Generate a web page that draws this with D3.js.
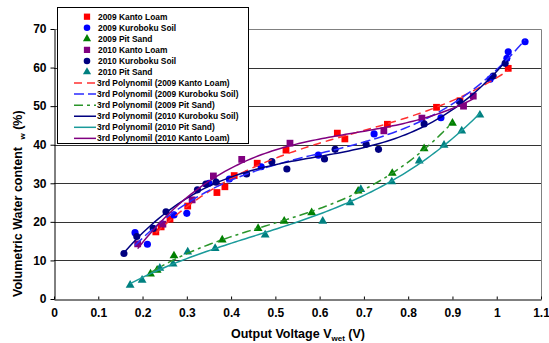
<!DOCTYPE html>
<html>
<head>
<meta charset="utf-8">
<script src="https://cdn.jsdelivr.net/npm/d3@7/dist/d3.min.js"></script>
<style>
  body { margin: 0; background: #fff; }
  svg { display: block; font-family: "Liberation Sans", Arial, sans-serif; }
</style>
</head>
<body>
<svg id="chart" width="549" height="343"></svg>
<script>
// Axis ticks
const xTicks = [0, 0.1, 0.2, 0.3, 0.4, 0.5, 0.6, 0.7, 0.8, 0.9, 1, 1.1];
const yTicks = [0, 10, 20, 30, 40, 50, 60, 70];

// Output voltage (V) and volumetric water content (%) per soil / year
const kanto2009V = [0.230, 0.242, 0.262, 0.302, 0.368, 0.386, 0.407, 0.459, 0.524, 0.640, 0.657, 0.753, 0.864, 0.917, 1.026];
const kanto2009W = [17.4, 18.7, 20.7, 24.1, 27.6, 29.1, 32.0, 35.2, 38.6, 43.0, 41.5, 45.3, 49.7, 51.4, 59.8];

const kuroboku2009V = [0.183, 0.211, 0.271, 0.300, 0.350, 0.396, 0.468, 0.597, 0.723, 0.874, 0.985, 1.023, 1.026, 1.064];
const kuroboku2009W = [17.2, 14.2, 21.8, 22.2, 30.0, 31.1, 34.3, 37.3, 42.8, 47.0, 57.0, 62.4, 64.1, 66.7];

const sand2009V = [0.218, 0.233, 0.271, 0.380, 0.461, 0.520, 0.582, 0.687, 0.764, 0.836, 0.900];
const sand2009W = [6.5, 7.5, 11.2, 15.3, 18.3, 20.2, 22.4, 28.0, 32.6, 39.0, 45.6];

const kanto2010V = [0.189, 0.246, 0.312, 0.360, 0.424, 0.533, 0.745, 0.831, 0.925, 0.947];
const kanto2010W = [14.3, 19.4, 25.7, 31.9, 36.2, 40.4, 43.6, 46.9, 50.0, 52.6];

const kuroboku2010V = [0.158, 0.187, 0.224, 0.253, 0.324, 0.343, 0.366, 0.435, 0.492, 0.526, 0.611, 0.635, 0.705, 0.733, 0.836, 0.916, 0.992, 1.019];
const kuroboku2010W = [11.8, 16.2, 18.3, 22.6, 28.3, 29.8, 30.3, 32.4, 35.6, 33.7, 36.3, 38.8, 40.1, 38.8, 45.4, 51.2, 57.8, 61.1];

const sand2010V = [0.172, 0.199, 0.239, 0.269, 0.302, 0.364, 0.477, 0.607, 0.669, 0.693, 0.763, 0.825, 0.881, 0.921, 0.962];
const sand2010W = [3.6, 4.9, 8.0, 9.1, 12.2, 13.1, 16.6, 20.2, 25.0, 28.4, 30.4, 35.8, 39.9, 43.6, 47.7];

const series = [
  { name: "2009 Kanto Loam",    v: kanto2009V,    w: kanto2009W,    color: "#ff0000", shape: d3.symbolSquare,   size: 46 },
  { name: "2009 Kuroboku Soil", v: kuroboku2009V, w: kuroboku2009W, color: "#0000ff", shape: d3.symbolCircle,   size: 40 },
  { name: "2009 Pit Sand",      v: sand2009V,     w: sand2009W,     color: "#008000", shape: d3.symbolTriangle, size: 34 },
  { name: "2010 Kanto Loam",    v: kanto2010V,    w: kanto2010W,    color: "#800080", shape: d3.symbolSquare,   size: 46 },
  { name: "2010 Kuroboku Soil", v: kuroboku2010V, w: kuroboku2010W, color: "#000080", shape: d3.symbolCircle,   size: 40 },
  { name: "2010 Pit Sand",      v: sand2010V,     w: sand2010W,     color: "#008080", shape: d3.symbolTriangle, size: 34 }
];

// Third-order polynomial trend lines, in legend order
const fits = [
  { label: "3rd Polynomil (2009 Kanto Loam)",    src: 0, color: "#ff3030", dash: "8,5" },
  { label: "3rd Polynomil (2009 Kuroboku Soil)", src: 1, color: "#2a2aff", dash: "10,4" },
  { label: "3rd Polynomil (2009 Pit Sand)",      src: 2, color: "#2a952a", dash: "9,4,3,4" },
  { label: "3rd Polynomil (2010 Kuroboku Soil)", src: 4, color: "#000080", dash: null },
  { label: "3rd Polynomil (2010 Pit Sand)",      src: 5, color: "#1a9a9a", dash: null },
  { label: "3rd Polynomil (2010 Kanto Loam)",    src: 3, color: "#800080", dash: null }
];

// Least-squares cubic: solve the 4x4 normal equations
function cubicFit(xs, ys) {
  const n = 4;
  const A = Array.from({ length: n }, () => new Array(n + 1).fill(0));
  xs.forEach((x, k) => {
    for (let i = 0; i < n; i++) {
      for (let j = 0; j < n; j++) A[i][j] += Math.pow(x, i + j);
      A[i][n] += ys[k] * Math.pow(x, i);
    }
  });
  for (let c = 0; c < n; c++) {
    let p = c;
    for (let r = c + 1; r < n; r++) if (Math.abs(A[r][c]) > Math.abs(A[p][c])) p = r;
    [A[c], A[p]] = [A[p], A[c]];
    for (let r = 0; r < n; r++) {
      if (r === c) continue;
      const f = A[r][c] / A[c][c];
      for (let k = c; k <= n; k++) A[r][k] -= f * A[c][k];
    }
  }
  const coef = A.map((row, i) => row[n] / row[i]);
  return x => coef[0] + coef[1] * x + coef[2] * x * x + coef[3] * x * x * x;
}

const svg = d3.select("#chart");
const plot = { left: 54, top: 29, right: 541, bottom: 299 };

const x = d3.scaleLinear().domain([0, 1.1]).range([plot.left, plot.right]);
const y = d3.scaleLinear().domain([0, 70]).range([plot.bottom, plot.top]);

// Horizontal grid lines
svg.append("g")
  .selectAll("line")
  .data(yTicks.filter(t => t > 0 && t < 70))
  .join("line")
  .attr("x1", plot.left).attr("x2", plot.right)
  .attr("y1", d => Math.round(y(d)) + 0.5).attr("y2", d => Math.round(y(d)) + 0.5)
  .attr("stroke", "#333").attr("stroke-width", 1);

// Plot frame: top and right in grey
svg.append("path")
  .attr("d", `M${plot.left},${plot.top + 0.5}H${plot.right + 0.5}V${plot.bottom}`)
  .attr("fill", "none").attr("stroke", "#808080").attr("stroke-width", 1);

// Axes
const xAxis = d3.axisBottom(x).tickValues(xTicks).tickSizeInner(-3).tickSizeOuter(0)
  .tickFormat(d => d3.format("~g")(d)).tickPadding(9);
const gx = svg.append("g").attr("transform", `translate(0,${plot.bottom + 0.5})`).call(xAxis);
gx.select(".domain").attr("stroke", "#000");
gx.selectAll(".tick line").attr("stroke", "#000");
gx.selectAll("text").attr("font-size", 12).attr("font-weight", "bold")
  .attr("font-family", "Liberation Sans, Arial, sans-serif").attr("fill", "#000");

const yAxis = d3.axisLeft(y).tickValues(yTicks).tickSizeInner(4).tickSizeOuter(0).tickPadding(4);
const gy = svg.append("g").attr("transform", `translate(${plot.left + 0.5},0)`).call(yAxis);
gy.select(".domain").attr("stroke", "#000");
gy.selectAll(".tick line").attr("stroke", "#000");
gy.selectAll("text").attr("font-size", 12).attr("font-weight", "bold")
  .attr("font-family", "Liberation Sans, Arial, sans-serif").attr("fill", "#000");

// Data markers
series.forEach(s => {
  svg.append("g")
    .selectAll("path")
    .data(s.v.map((v, i) => [v, s.w[i]]))
    .join("path")
    .attr("transform", d => `translate(${x(d[0])},${y(d[1])})`)
    .attr("d", d3.symbol(s.shape, s.size))
    .attr("fill", s.color);
});

// Trend lines
const line = d3.line().x(d => x(d[0])).y(d => y(d[1])).curve(d3.curveLinear);
fits.forEach(f => {
  const s = series[f.src];
  const fn = cubicFit(s.v, s.w);
  const [lo, hi] = d3.extent(s.v);
  const pts = d3.range(0, 101).map(i => {
    const v = lo + (hi - lo) * i / 100;
    return [v, fn(v)];
  });
  svg.append("path")
    .attr("d", line(pts))
    .attr("fill", "none")
    .attr("stroke", f.color)
    .attr("stroke-width", 1.5)
    .attr("stroke-dasharray", f.dash);
});

// Legend
const legend = svg.append("g");
legend.append("rect")
  .attr("x", 57.5).attr("y", 7.5).attr("width", 191).attr("height", 136)
  .attr("fill", "#fff").attr("stroke", "#000").attr("stroke-width", 1);

const rowY = i => 16.7 + 11.06 * i;
series.forEach((s, i) => {
  legend.append("path")
    .attr("transform", `translate(87,${rowY(i)})`)
    .attr("d", d3.symbol(s.shape, s.size * 0.85))
    .attr("fill", s.color);
  legend.append("text")
    .attr("x", 98).attr("y", rowY(i)).attr("dy", "0.35em")
    .attr("font-size", 8.4).attr("font-weight", "bold")
    .text(s.name);
});
fits.forEach((f, j) => {
  const i = series.length + j;
  legend.append("line")
    .attr("x1", 74).attr("x2", 96)
    .attr("y1", rowY(i)).attr("y2", rowY(i))
    .attr("stroke", f.color).attr("stroke-width", 1.5)
    .attr("stroke-dasharray", f.dash);
  legend.append("text")
    .attr("x", 97).attr("y", rowY(i)).attr("dy", "0.35em")
    .attr("font-size", 8.4).attr("font-weight", "bold")
    .text(f.label);
});

// Axis titles
const xt = svg.append("text")
  .attr("x", 298).attr("y", 338)
  .attr("text-anchor", "middle")
  .attr("font-size", 12.5).attr("font-weight", "bold");
xt.append("tspan").text("Output Voltage V");
xt.append("tspan").attr("font-size", 8).attr("dy", 3).text("wet");
xt.append("tspan").attr("dy", -3).text(" (V)");

const yt = svg.append("text")
  .attr("transform", "translate(22,297) rotate(-90)")
  .attr("text-anchor", "start")
  .attr("font-size", 12.5).attr("font-weight", "bold");
yt.append("tspan").text("Volumetric Water content ");
yt.append("tspan").attr("font-size", 8).attr("dx", 4).attr("dy", 3).text("w");
yt.append("tspan").attr("dy", -3).text(" (%)");
</script>
</body>
</html>
